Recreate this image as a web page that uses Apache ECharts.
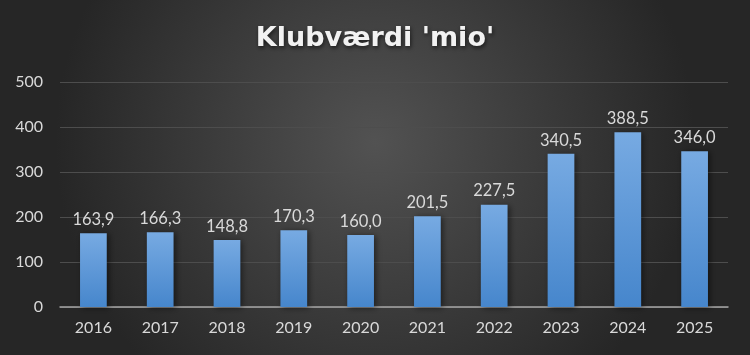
<!DOCTYPE html>
<html><head><meta charset="utf-8">
<script src="https://cdn.jsdelivr.net/npm/echarts@6/dist/echarts.min.js"></script>
<style>html,body{margin:0;padding:0;}#c{width:750px;height:355px;}</style>
</head><body><div id="c"></div>
<script>
var categories = ['2016','2017','2018','2019','2020','2021','2022','2023','2024','2025'];
var values = [163.9,166.3,148.8,170.3,160.0,201.5,227.5,340.5,388.5,346.0];
var yTicks = [0,100,200,300,400,500];

var chart = echarts.init(document.getElementById('c'));
chart.setOption({
  backgroundColor: {type:'radial', x:0.5, y:0.4, r:0.9, colorStops:[{offset:0,color:'#525252'},{offset:1,color:'#262626'}]},
  animation:false,
  title:{text:"Klubværdi 'mio'", left:'center', top:20,
    textStyle:{color:'#f2f2f2', fontSize:27, fontWeight:'bold', fontFamily:'DejaVu Sans',
      textShadowColor:'rgba(0,0,0,0.6)', textShadowBlur:4, textShadowOffsetX:1, textShadowOffsetY:2}},
  grid:{left:60, right:22, top:82, bottom:48},
  xAxis:{type:'category', data:categories,
    axisLine:{lineStyle:{color:'#a6a6a6', width:1.5}}, axisTick:{show:false},
    axisLabel:{color:'#d9d9d9', fontSize:16, fontFamily:'Lato', margin:13}},
  yAxis:{type:'value', min:yTicks[0], max:yTicks[yTicks.length-1], interval:100,
    axisLine:{show:false}, axisTick:{show:false},
    splitLine:{lineStyle:{color:'#4d4d4d', width:1.2}},
    axisLabel:{color:'#d9d9d9', fontSize:16, fontFamily:'Lato', margin:17}},
  series:[{type:'bar', data:values, barWidth:'40%',
    itemStyle:{color:{type:'linear',x:0,y:0,x2:0,y2:1,colorStops:[{offset:0,color:'#77aae2'},{offset:1,color:'#4686cc'}]},
      shadowColor:'rgba(0,0,0,0.5)', shadowBlur:6, shadowOffsetX:2, shadowOffsetY:1},
    label:{show:true, position:'top', distance:5, color:'#d9d9d9', fontSize:16.5, fontFamily:'Lato',
      formatter:function(p){return p.value.toFixed(1).replace('.',',');}}}]
});
</script></body></html>
